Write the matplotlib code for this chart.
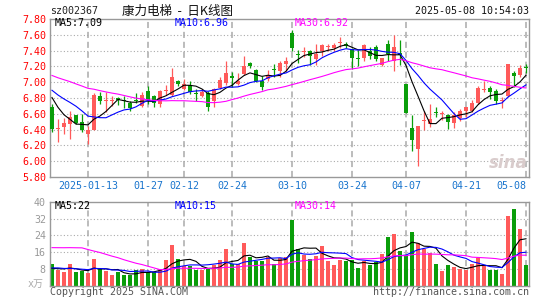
import numpy as np
import pandas as pd
import matplotlib
matplotlib.use('Agg')
import matplotlib.pyplot as plt

# daily candles, 80 sessions (2025-01-03 .. 2025-05-08)
opens = [6.68, 6.41, 6.43, 6.47, 6.59, 6.49, 6.34, 6.39, 6.83, 6.76,
         6.76, 6.80, 6.77, 6.74, 6.77, 6.70, 6.89, 6.82, 6.73, 6.89,
         6.84, 7.01, 6.91, 6.97, 6.86, 6.83, 6.86, 6.76, 6.93, 6.99,
         7.08, 6.98, 7.10, 7.24, 7.15, 7.01, 7.04, 7.17, 7.14, 7.23,
         7.62, 7.36, 7.38, 7.40, 7.30, 7.39, 7.45, 7.43, 7.50, 7.48,
         7.42, 7.31, 7.31, 7.40, 7.45, 7.22, 7.48, 7.27, 7.37, 6.98,
         6.42, 6.16, 6.51, 6.47, 6.62, 6.60, 6.58, 6.48, 6.55, 6.63,
         6.63, 6.74, 6.90, 6.93, 6.89, 6.76, 6.83, 7.12, 7.09, 7.19]
highs = [6.72, 6.53, 6.55, 6.64, 6.59, 6.60, 6.45, 6.86, 6.87, 6.88,
         6.83, 6.81, 6.83, 6.76, 6.86, 6.87, 6.95, 6.84, 6.90, 6.96,
         7.18, 7.03, 7.04, 7.01, 6.91, 6.91, 6.89, 6.93, 7.06, 7.27,
         7.13, 7.12, 7.33, 7.25, 7.17, 7.08, 7.15, 7.23, 7.27, 7.32,
         7.66, 7.41, 7.44, 7.41, 7.48, 7.48, 7.48, 7.50, 7.57, 7.51,
         7.43, 7.41, 7.48, 7.44, 7.47, 7.31, 7.54, 7.60, 7.54, 6.98,
         6.59, 6.45, 6.63, 6.72, 6.69, 6.64, 6.60, 6.62, 6.66, 6.69,
         6.78, 6.95, 7.01, 6.95, 6.91, 6.81, 7.23, 7.14, 7.22, 7.23]
lows = [6.37, 6.24, 6.35, 6.28, 6.47, 6.37, 6.22, 6.39, 6.72, 6.62,
        6.70, 6.71, 6.67, 6.64, 6.74, 6.68, 6.72, 6.69, 6.69, 6.84,
        6.83, 6.95, 6.90, 6.85, 6.76, 6.81, 6.63, 6.68, 6.91, 6.96,
        6.94, 6.97, 7.09, 7.18, 7.00, 6.90, 7.01, 7.06, 7.06, 7.14,
        7.40, 7.24, 7.32, 7.22, 7.22, 7.33, 7.39, 7.39, 7.43, 7.43,
        7.17, 7.20, 7.27, 7.29, 7.27, 7.21, 7.27, 7.14, 7.22, 6.61,
        6.13, 5.94, 6.39, 6.43, 6.56, 6.52, 6.41, 6.42, 6.51, 6.56,
        6.62, 6.72, 6.87, 6.79, 6.72, 6.67, 6.81, 6.94, 7.07, 7.12]
closes = [6.41, 6.42, 6.48, 6.56, 6.48, 6.39, 6.39, 6.84, 6.76, 6.77,
          6.77, 6.77, 6.76, 6.67, 6.76, 6.84, 6.77, 6.74, 6.89, 6.90,
          7.06, 6.98, 6.98, 6.88, 6.85, 6.88, 6.69, 6.91, 7.03, 7.12,
          7.05, 7.02, 7.20, 7.20, 7.01, 6.94, 7.09, 7.15, 7.24, 7.27,
          7.43, 7.35, 7.40, 7.33, 7.36, 7.47, 7.46, 7.47, 7.51, 7.46,
          7.31, 7.30, 7.47, 7.33, 7.29, 7.30, 7.36, 7.45, 7.34, 6.61,
          6.27, 6.45, 6.52, 6.53, 6.61, 6.61, 6.49, 6.58, 6.64, 6.68,
          6.74, 6.93, 6.91, 6.88, 6.76, 6.77, 7.23, 7.08, 7.18, 7.18]
vols = [10.1, 7.2, 6.4, 10.1, 6.4, 6.9, 5.9, 12.5, 7.7, 6.9,
        4.8, 6.4, 4.8, 4.8, 7.2, 8.0, 6.4, 6.4, 8.0, 12.0,
        19.2, 12.8, 9.3, 9.3, 7.2, 7.2, 8.0, 9.6, 12.0, 17.6,
        10.4, 10.4, 20.5, 13.6, 11.5, 11.5, 13.6, 10.4, 13.3, 13.6,
        31.2, 17.6, 14.4, 12.5, 13.9, 18.7, 11.5, 9.6, 12.0, 11.5,
        12.0, 8.2, 11.5, 9.6, 11.2, 14.9, 23.2, 24.5, 16.3, 14.4,
        25.4, 20.5, 17.6, 15.7, 10.1, 6.9, 9.6, 8.8, 8.0, 7.2,
        10.1, 13.3, 9.6, 7.2, 7.2, 5.3, 33.5, 36.5, 27.0, 9.6]

# sessions before the window, they only feed the moving averages
pre_close = [7.30, 7.22, 7.28, 7.35, 7.20, 7.26, 7.18, 7.30, 7.25, 7.22,
             7.15, 7.28, 7.20, 7.24, 7.17, 7.05, 6.98, 7.02, 6.95, 6.98,
             7.02, 6.98, 7.00, 6.96, 6.99, 7.04, 6.95, 6.85, 6.78]
pre_vol = [8, 7, 9, 8, 8, 30, 35, 28, 33, 31, 29, 34, 30, 32, 27,
           31, 30, 33, 9, 8, 7, 9, 10, 8, 9, 8, 7, 8, 8]

tick_idx = [6, 16, 22, 30, 40, 50, 59, 69, 79]
tick_lbl = ['2025-01-13', '01-27', '02-12', '02-24', '03-10',
            '03-24', '04-07', '04-21', '05-08']
price_ticks = [7.80, 7.60, 7.40, 7.20, 7.00, 6.80, 6.60, 6.40, 6.20, 6.00, 5.80]
vol_ticks = [40, 32, 24, 16, 8]

RED = '#ff5a5a'
GRN = '#0a9e0a'
GRID = '#aaaaaa'
MONO = 'DejaVu Sans Mono'
FS = 7.2


def ma(pre, cur, n):
    s = pd.Series(list(pre) + list(cur))
    return s.rolling(n, min_periods=1).mean().values[len(pre):]


W, H = 545, 300


def box(l, t, r, b):
    return [l / W, 1 - b / H, (r - l) / W, (b - t) / H]


def ftext(x, y, s, **kw):
    kw.setdefault('family', MONO)
    kw.setdefault('fontsize', FS)
    kw.setdefault('va', 'center')
    fig.text(x / W, 1 - y / H, s, **kw)


fig = plt.figure(figsize=(5.45, 3.0), dpi=100)
ax1 = fig.add_axes(box(50, 19, 529, 177))
ax2 = fig.add_axes(box(50, 202, 529, 285.5))

x = np.arange(len(closes))
o = np.array(opens)
c = np.array(closes)
up = c >= o
cols = [RED if u else GRN for u in up]

for ax in (ax1, ax2):
    ax.set_xlim(-0.33, 79.5)
    for s in ax.spines.values():
        s.set_color('#999999')
        s.set_linewidth(1.0)
    ax.tick_params(length=0)
    for i in tick_idx:
        ax.axvline(i, color=GRID, lw=1.1, ls=(0, (4, 2.5)), zorder=0)

# price panel
ax1.set_ylim(5.80, 7.80)
for y in price_ticks[1:-1]:
    ax1.axhline(y, color=GRID, lw=0.8, ls=(0, (1, 2)), zorder=0)
ax1.vlines(x, lows, highs, colors=cols, lw=0.9, zorder=2)
body = np.maximum(np.abs(c - o), 0.01)
ax1.bar(x, body, bottom=np.minimum(o, c), width=0.8, color=cols, lw=0, zorder=3)
ax1.plot(x, ma(pre_close, closes, 5), color='black', lw=0.8, zorder=4)
ax1.plot(x, ma(pre_close, closes, 10), color='#0000ff', lw=0.8, zorder=4)
ax1.plot(x, ma(pre_close, closes, 30), color='#ff00ff', lw=0.8, zorder=4)
ax1.set_yticks(price_ticks)
ax1.set_yticklabels(['%.2f' % v for v in price_ticks], family=MONO,
                    fontsize=FS, color='#ff0000')
ax1.tick_params(axis='y', pad=2.5)
ax1.set_xticks(tick_idx)
ax1.set_xticklabels(tick_lbl, family=MONO, fontsize=FS, color='#1874cd')
ax1.tick_params(axis='x', pad=3)
ax1.get_xticklabels()[-1].set_ha('right')
ax1.text(79.3, 5.86, 'sina', ha='right', va='bottom', fontsize=12,
         style='italic', weight='bold', color='#d9cccc', zorder=1)

# volume panel
ax2.set_ylim(0, 40)
for y in vol_ticks[1:]:
    ax2.axhline(y, color=GRID, lw=0.8, ls=(0, (1, 2)), zorder=0)
ax2.bar(x, vols, width=0.8, color=cols, lw=0, zorder=2)
ax2.plot(x, ma(pre_vol, vols, 5), color='black', lw=0.8, zorder=4)
ax2.plot(x, ma(pre_vol, vols, 10), color='#0000ff', lw=0.8, zorder=4)
ax2.plot(x, ma(pre_vol, vols, 30), color='#ff00ff', lw=0.8, zorder=4)
ax2.set_xticks([])
ax2.set_yticks(vol_ticks)
ax2.set_yticklabels([str(v) for v in vol_ticks], family=MONO,
                    fontsize=FS, color='#999999')
ax2.tick_params(axis='y', pad=3)

# header, legends and footer
ftext(50, 11, 'sz002367', color='#222222')
ftext(122, 11, '康力电梯  -  日K线图', family=['Noto Sans CJK SC', 'DejaVu Sans'],
      fontsize=9.0, color='#111111')
ftext(529, 11, '2025-05-08 10:54:03', ha='right', color='#111111')
ftext(55, 23.5, 'MA5:7.09', color='black')
ftext(175, 23.5, 'MA10:6.96', color='#0000ff')
ftext(295, 23.5, 'MA30:6.92', color='#ff00ff')
ftext(55, 206, 'MA5:22', color='black')
ftext(175, 206, 'MA10:15', color='#0000ff')
ftext(295, 206, 'MA30:14', color='#ff00ff')
ftext(28, 284, 'x万', family=[MONO, 'Noto Sans CJK SC'], color='#aaaaaa')
ftext(50, 292, 'Copyright 2025 SINA.COM', color='#555555')
ftext(529, 292, 'http://finance.sina.com.cn', ha='right', color='#555555')

fig.savefig('out.png', dpi=100)
